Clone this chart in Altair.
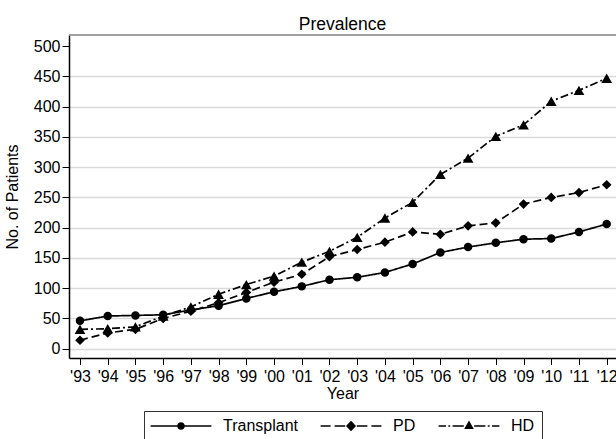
import altair as alt
import pandas as pd

# ---- data ----
years = list(range(1993, 2013))
transplant = [46, 54, 55, 56, 64, 71, 83, 94, 103, 114, 118, 126, 140, 159, 168, 175, 181, 182, 193, 206]
pd_patients = [14, 26, 32, 50, 62, 76, 93, 110, 123, 152, 164, 176, 193, 189, 203, 208, 239, 250, 258, 271]
hd = [32, 33, 36, 54, 69, 90, 106, 120, 143, 161, 184, 216, 242, 288, 315, 351, 370, 409, 427, 447]
series = ["Transplant", "PD", "HD"]
y_ticks = list(range(0, 501, 50))

rows = []
for name, vals in zip(series, [transplant, pd_patients, hd]):
    for yr, v in zip(years, vals):
        rows.append({"year": yr, "series": name, "value": v})
df = pd.DataFrame(rows)

FONT = "Liberation Sans"
W, H = 547, 323

x_enc = alt.X(
    "year:Q",
    scale=alt.Scale(domain=[1992.603, 2012.336], nice=False, zero=False),
    axis=alt.Axis(
        values=years,
        labelExpr="\"'\" + slice(toString(datum.value), 2)",
        title="Year",
        grid=False,
        tickSize=6.5,
        tickColor="black",
        tickWidth=1,
        domainColor="black",
        domainWidth=1.5,
        labelFont=FONT,
        labelFontSize=16,
        labelColor="black",
        labelPadding=4,
        labelOverlap=False,
        labelFlush=False,
        titleFont=FONT,
        titleFontSize=16,
        titleFontWeight="normal",
        titleColor="black",
        titlePadding=1,
    ),
)
y_enc = alt.Y(
    "value:Q",
    scale=alt.Scale(domain=[-15.4, 518.5], nice=False, zero=False),
    axis=alt.Axis(
        values=y_ticks,
        title="No. of Patients",
        grid=True,
        gridColor="#dadada",
        gridWidth=1.4,
        gridOpacity={"condition": {"test": "datum.value === 500", "value": 0}, "value": 1},
        tickSize=7,
        tickColor="black",
        tickWidth=1,
        domainColor="black",
        domainWidth=1.5,
        labelFont=FONT,
        labelFontSize=16,
        labelColor="black",
        labelPadding=2,
        titleFont=FONT,
        titleFontSize=16,
        titleFontWeight="normal",
        titleColor="black",
        titlePadding=13,
    ),
)

base = alt.Chart(df)

lines = base.mark_line(color="black", strokeWidth=1.7).encode(
    x=x_enc,
    y=y_enc,
    strokeDash=alt.StrokeDash(
        "series:N",
        scale=alt.Scale(domain=series, range=[[1, 0], [8, 4], [8, 3, 2, 3]]),
        legend=None,
    ),
)

points = base.mark_point(filled=True, color="black", opacity=1).encode(
    x=x_enc,
    y=y_enc,
    shape=alt.Shape(
        "series:N",
        scale=alt.Scale(domain=series, range=["circle", "diamond", "triangle-up"]),
        legend=None,
    ),
    size=alt.Size(
        "series:N",
        scale=alt.Scale(domain=series, range=[72, 115, 100]),
        legend=None,
    ),
)


def seg(a, b, h=0.19):
    """filled horizontal bar from a to b (units of 4px)"""
    return f"M{a},{-h}L{b},{-h}L{b},{h}L{a},{h}Z"


# legend glyphs: line + marker drawn as filled custom symbol paths (unit = 4px)
legend_paths = [
    seg(-7.6, -0.9) + seg(0.9, 7.6)
    + "M-0.95,0A0.95,0.95,0,1,1,0.95,0A0.95,0.95,0,1,1,-0.95,0Z",
    seg(-7.6, -5.1) + seg(-4.1, -1.45) + seg(1.45, 4.1) + seg(5.1, 7.6)
    + "M0,-1.3L1.25,0L0,1.3L-1.25,0Z",
    seg(-7.6, -5.75) + seg(-5.15, -4.7) + seg(-4.1, -1.3)
    + seg(1.3, 4.1) + seg(4.7, 5.15) + seg(5.75, 7.6)
    + "M0,-1.35L1.2,0.75L-1.2,0.75Z",
]

legend_layer = base.mark_point(filled=True, color="black", opacity=0).encode(
    x=x_enc,
    y=y_enc,
    shape=alt.Shape(
        "series:N",
        scale=alt.Scale(domain=series, range=legend_paths),
        legend=alt.Legend(
            title=None,
            orient="none",
            legendX=75,
            legendY=376,
            direction="horizontal",
            columns=3,
            symbolSize=64,
            symbolStrokeWidth=0,
            symbolFillColor="black",
            symbolOpacity=1,
            symbolOffset=22,
            labelOffset=34,
            columnPadding=22,
            padding=7,
            strokeColor="#333333",
            fillColor="white",
            labelFont=FONT,
            labelFontSize=16,
            labelColor="black",
            labelLimit=300,
        ),
    ),
)

frame_top = alt.Chart(alt.Data(values=[{}])).mark_rule(color="#808080", strokeWidth=1.5).encode(
    x=alt.value(0), x2=alt.value(W), y=alt.value(0)
)

chart = (
    alt.layer(lines, points, legend_layer, frame_top)
    .resolve_scale(shape="independent", size="independent")
    .properties(
        width=W,
        height=H,
        title=alt.TitleParams(
            "Prevalence",
            font=FONT,
            fontSize=17.5,
            fontWeight="normal",
            color="black",
            anchor="middle",
            frame="group",
            baseline="alphabetic",
            offset=7.5,
            dy=20.5,
        ),
        autosize=alt.AutoSizeParams(type="none"),
        padding={"left": 69, "top": 35, "right": 0, "bottom": 81},
        background="white",
    )
    .configure_view(stroke=None)
)

chart.save("out.html", embed_options={"renderer": "svg", "actions": False})
